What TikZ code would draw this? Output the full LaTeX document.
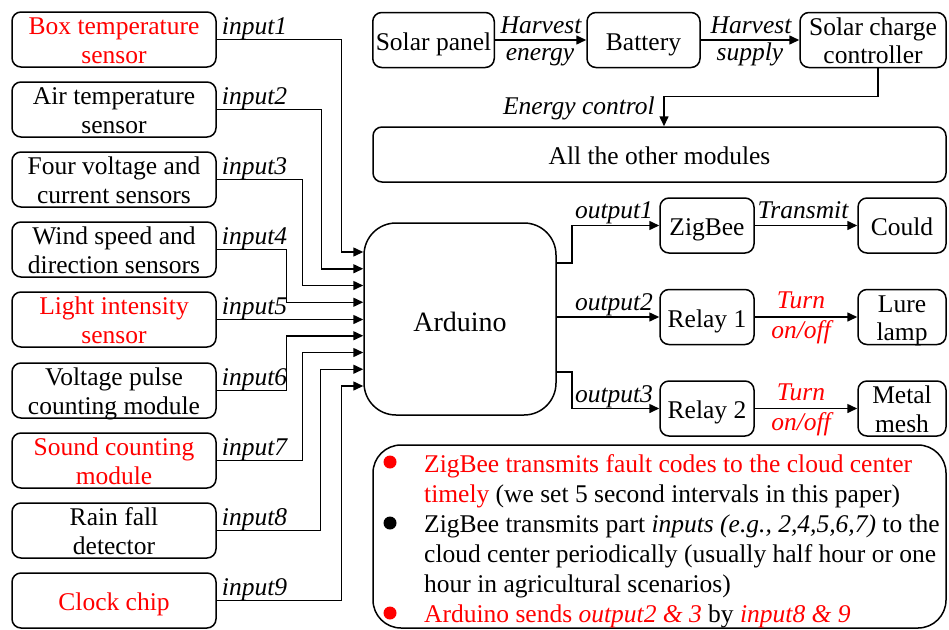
\documentclass[tikz,border=0pt]{standalone}
\usepackage{fontspec}
\setmainfont{Liberation Serif}
\usetikzlibrary{arrows.meta}
\definecolor{myred}{RGB}{255,0,0}
\begin{document}
\begin{tikzpicture}[x=1pt,y=-1pt,
  box/.style={draw,line width=1.5pt,rounded corners=9pt,inner sep=0pt,align=center,
    font=\fontsize{25.5}{28.5}\selectfont},
  one/.style={text height=22pt,text depth=2pt},
  two/.style={text height=49pt,text depth=2pt},
  lbox/.style={box,minimum width=204pt,minimum height=55pt},
  obox/.style={box,one,minimum width=94pt,minimum height=55pt},
  cbox/.style={box,minimum width=88pt,minimum height=55pt},
  arr/.style={line width=1.5pt,-{Triangle[length=10pt,width=9pt]}},
  lbl/.style={font=\fontsize{25.5}{28.5}\selectfont\itshape,inner sep=0pt},
  ltxt/.style={font=\fontsize{25.5}{30}\selectfont,inner sep=0pt,anchor=base west},
]
\useasboundingbox (0,0) rectangle (949,629);

% left sensors
\node[lbox,two,text=myred] (b1) at (114,39.5) {Box temperature\\sensor};
\node[lbox,two] (b2) at (114,109.5) {Air temperature\\sensor};
\node[lbox,two] (b3) at (114,179.5) {Four voltage and\\current sensors};
\node[lbox,two] (b4) at (114,249.5) {Wind speed and\\direction sensors};
\node[lbox,two,text=myred] (b5) at (114,319.5) {Light intensity\\sensor};
\node[lbox,two] (b6) at (114,390.5) {Voltage pulse\\counting module};
\node[lbox,two,text=myred] (b7) at (114,460.5) {Sound counting\\module};
\node[lbox,two] (b8) at (114,530.5) {Rain fall\\detector};
\node[lbox,one,text=myred] (b9) at (114,600.5) {Clock chip};

% Arduino
\node[box,rounded corners=32pt,minimum width=192pt,minimum height=192pt,
  text height=26pt,text depth=2pt,
  font=\fontsize{28}{30}\selectfont] (ard) at (460,319) {Arduino};

% input labels
\foreach \i in {1,...,9}{
  \node[lbl,anchor=base west] at ([xshift=5pt,yshift=5pt]b\i.east) {input\i};
}

% input connectors
\foreach \i/\d in {1/22,2/42,3/61,4/77,6/77,7/61,8/43,9/22}{
  \coordinate (t\i) at ([yshift={(5-\i)*16.75pt}]ard.west);
  \draw[arr] (b\i.east) -| ([xshift=-\d pt]t\i) -- (t\i);
}
\draw[arr] (b5.east) -- (b5.east -| ard.west);

% top energy row
\node[box,one,minimum width=121.5pt,minimum height=55pt] (sp) at (433.5,40) {Solar panel};
\node[box,one,minimum width=113pt,minimum height=55pt] (bat) at (643.5,40) {Battery};
\node[box,two,minimum width=146pt,minimum height=55pt] (ctrl) at (873,40) {Solar charge\\controller};
\node[box,one,minimum width=573pt,minimum height=55pt] (all) at (659.5,154.5) {All the other modules};

\draw[arr] (sp.east) -- (bat.west);
\draw[arr] (bat.east) -- (ctrl.west);
\node[lbl,anchor=base] at (541,33) {Harvest};
\node[lbl,anchor=base] at (540,60) {energy};
\node[lbl,anchor=base] at (751,33) {Harvest};
\node[lbl,anchor=base] at (750,60) {supply};

\draw[arr] ([xshift=5pt]ctrl.south) |- ([xshift=4.5pt,yshift=30pt]all.north) -- ([xshift=4.5pt]all.north);
\node[lbl,anchor=base east] at (655,114) {Energy control};

% outputs
\node[obox] (zig) at (707,225.5) {ZigBee};
\node[cbox,one] (cld) at (902,225.5) {Could};
\node[obox] (r1) at (707,317) {Relay 1};
\node[cbox,two] (lure) at (902,317) {Lure\\lamp};
\node[obox] (r2) at (707,408.5) {Relay 2};
\node[cbox,two] (mesh) at (902,408.5) {Metal\\mesh};

\coordinate (o1) at ([yshift=56pt]ard.east);
\coordinate (o3) at ([yshift=-53pt]ard.east);
\draw[arr] (o1) -- ++(15,0) |- (zig.west);
\draw[arr] (ard.east |- r1.west) -- (r1.west);
\draw[arr] (o3) -- ++(15,0) |- (r2.west);
\draw[arr] (zig.east) -- (cld.west);
\draw[arr] (r1.east) -- (lure.west);
\draw[arr] (r2.east) -- (mesh.west);

\node[lbl,anchor=base] at (614,218) {output1};
\node[lbl,anchor=base] at (614,310) {output2};
\node[lbl,anchor=base] at (614,402) {output3};
\node[lbl,anchor=base] at (803,218) {Transmit};
\node[lbl,anchor=base,text=myred] at (801,308) {Turn};
\node[lbl,anchor=base,text=myred] at (801,338) {on/off};
\node[lbl,anchor=base,text=myred] at (801,400) {Turn};
\node[lbl,anchor=base,text=myred] at (801,430) {on/off};

% legend
\node[draw,line width=1.5pt,rounded corners=28pt,minimum width=573pt,minimum height=183pt,inner sep=0pt] (leg) at (659.5,536.5) {};
\fill[myred] (390,462) circle (6.5pt);
\fill[black] (390,523) circle (6.5pt);
\fill[myred] (390,613) circle (6.5pt);
\node[ltxt,text=myred] at (424,472) {ZigBee transmits fault codes to the cloud center};
\node[ltxt] at (424,502) {\textcolor{myred}{timely} (we set 5 second intervals in this paper)};
\node[ltxt] at (424,532) {ZigBee transmits part \textit{inputs (e.g., 2,4,5,6,7)} to the};
\node[ltxt] at (424,562) {cloud center periodically (usually half hour or one};
\node[ltxt] at (424,592) {hour in agricultural scenarios)};
\node[ltxt,text=myred] at (424,622) {Arduino sends \textit{output2 \& 3} \textcolor{black}{by} \textit{input8 \& 9}};
\end{tikzpicture}
\end{document}
